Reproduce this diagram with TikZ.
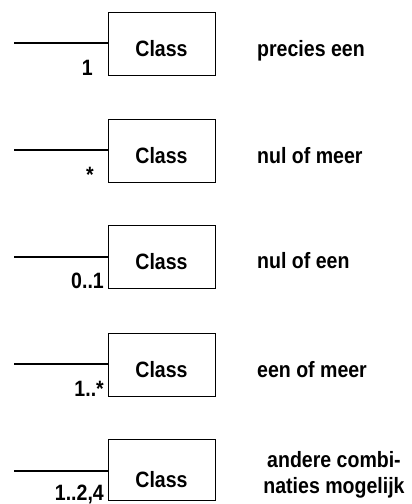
\documentclass[tikz,border=0pt]{standalone}
\usepackage{fontspec}
\setmainfont{Liberation Sans}
\newfontfamily\lblfont[FakeStretch=0.88]{Liberation Sans}
\begin{document}
\begin{tikzpicture}[x=1pt,y=-1pt,
  cls/.style={draw,line width=1.2pt,minimum width=107pt,minimum height=63pt,inner sep=0pt,anchor=north west},
  conn/.style={line width=1.2pt},
  txt/.style={font=\lblfont\fontsize{22.2}{26}\selectfont\bfseries,inner sep=0pt},
  mult/.style={txt,anchor=base east}]
\useasboundingbox (0,0) rectangle (412,504);
% row 1
\node[cls] (b1) at (108,12) {};
\node[txt,anchor=base] (c1) at (161.5,56.5) {Class};
\coordinate (s1) at (14,43);
\draw[conn] (s1) -- (s1 -| b1.west);
\node[mult] (m1) at (93,75) {1};
\node[txt,anchor=base west] (t1) at (257,56.5) {precies een};
% row 2
\node[cls] (b2) at (108,119) {};
\node[txt,anchor=base] (c2) at (161.5,163) {Class};
\coordinate (s2) at (14,150);
\draw[conn] (s2) -- (s2 -| b2.west);
\node[mult] (m2) at (94,182) {*};
\node[txt,anchor=base west] (t2) at (257,163) {nul of meer};
% row 3
\node[cls] (b3) at (108,225) {};
\node[txt,anchor=base] (c3) at (161.5,269) {Class};
\coordinate (s3) at (14,257);
\draw[conn] (s3) -- (s3 -| b3.west);
\node[mult] (m3) at (104,288) {0..1};
\node[txt,anchor=base west] (t3) at (257,268.5) {nul of een};
% row 4
\node[cls] (b4) at (108,333) {};
\node[txt,anchor=base] (c4) at (161.5,377) {Class};
\coordinate (s4) at (14,364);
\draw[conn] (s4) -- (s4 -| b4.west);
\node[mult] (m4) at (104,396) {1..*};
\node[txt,anchor=base west] (t4) at (257,377.5) {een of meer};
% row 5
\node[cls,minimum height=61pt] (b5) at (108,439) {};
\node[txt,anchor=base] (c5) at (161.5,487) {Class};
\coordinate (s5) at (14,471);
\draw[conn] (s5) -- (s5 -| b5.west);
\node[mult] (m5) at (104,500) {1..2,4};
\node[txt,anchor=base] (t5a) at (334,467) {andere combi-};
\node[txt,anchor=base] (t5b) at (334,493) {naties mogelijk};
\end{tikzpicture}
\end{document}
